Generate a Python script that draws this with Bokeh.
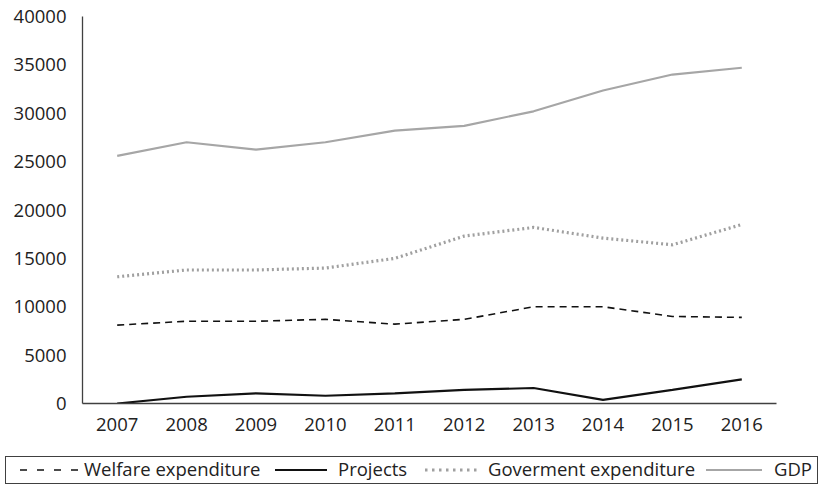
from bokeh.plotting import figure
from bokeh.layouts import column
from bokeh.models import FactorRange, Range1d, FixedTicker, Div
from bokeh.embed import file_html
from bokeh.resources import INLINE

years = ["2007", "2008", "2009", "2010", "2011", "2012", "2013", "2014", "2015", "2016"]
welfare = [8100, 8500, 8500, 8700, 8200, 8700, 10000, 10000, 9000, 8900]
projects = [0, 700, 1050, 800, 1050, 1400, 1600, 380, 1400, 2500]
government = [13100, 13800, 13800, 14000, 15000, 17300, 18200, 17100, 16400, 18500]
gdp = [25600, 27000, 26250, 27000, 28200, 28700, 30200, 32350, 34000, 34700]
y_ticks = [0, 5000, 10000, 15000, 20000, 25000, 30000, 35000, 40000]
series_names = ["Welfare expenditure", "Projects", "Goverment expenditure", "GDP"]
series = [welfare, projects, government, gdp]

FONT = "Open Sans"
STYLES = [
    dict(line_color="#111111", line_width=1.6, line_dash="7 5"),
    dict(line_color="#111111", line_width=2.2),
    dict(line_color="#a0a0a0", line_width=3.2, line_dash="2 3"),
    dict(line_color="#a6a6a6", line_width=2.2),
]

p = figure(width=821, height=440, x_range=FactorRange(*years), y_range=Range1d(0, 40000),
           output_backend="svg", toolbar_location=None,
           min_border_left=82, min_border_right=45, min_border_top=16, min_border_bottom=37)
p.outline_line_color = None
p.xgrid.visible = False
p.ygrid.visible = False
p.x_range.range_padding = 0

for ax in (p.xaxis[0], p.yaxis[0]):
    ax.axis_line_color = "#404040"
    ax.axis_line_width = 1.3
    ax.major_tick_line_color = None
    ax.minor_tick_line_color = None
    ax.major_label_text_font = FONT
    ax.major_label_text_font_size = "18.5px"
    ax.major_label_text_color = "#222222"
p.yaxis.ticker = FixedTicker(ticks=y_ticks)
p.yaxis.major_label_standoff = 10
p.xaxis.major_label_standoff = 8

for vals, st in zip(series, STYLES):
    p.line(years, vals, **st)

# Legend strip below the plot (full width, boxed), drawn as inline SVG in a Div
legend_glyph_dash = ["7 10", "", "2.5 4.5", ""]
legend_glyph_x = [(20, 79), (275, 327), (425, 478), (706, 762)]
legend_label_x = [84, 338, 488, 774]
parts = ['<svg xmlns="http://www.w3.org/2000/svg" width="821" height="56">',
         '<rect x="5.5" y="16.5" width="812" height="27" fill="none" stroke="#404040" stroke-width="1"/>']
for name, st, dash, (gx0, gx1), lx in zip(series_names, STYLES, legend_glyph_dash,
                                          legend_glyph_x, legend_label_x):
    da = f' stroke-dasharray="{dash}"' if dash else ""
    parts.append(f'<line x1="{gx0}" y1="30" x2="{gx1}" y2="30" stroke="{st["line_color"]}" '
                 f'stroke-width="{st["line_width"]}"{da}/>')
    parts.append(f'<text x="{lx}" y="36" style="font-family:\'{FONT}\';font-size:18.5px;fill:#222222">'
                 f'{name}</text>')
parts.append('</svg>')
legend_div = Div(text="".join(parts), width=821, height=56, margin=(0, 0, 0, 0),
                 styles={"font-family": f"'{FONT}'"})

open("out.html", "w").write(file_html(column(p, legend_div, spacing=0), INLINE))
